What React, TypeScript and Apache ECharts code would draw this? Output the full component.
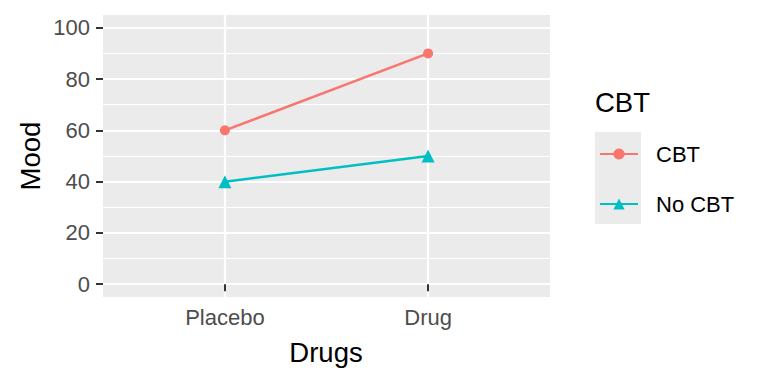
import React, { useEffect, useRef } from "react";
import * as echarts from "echarts";

const drugs = ["Placebo", "Drug"];
const cbtValues = [60, 90];
const noCbtValues = [40, 50];
const yTicks = [0, 20, 40, 60, 80, 100];
const yMinor = [10, 30, 50, 70, 90];
const seriesNames = ["CBT", "No CBT"];
const colors = ["#F8766D", "#00BFC4"];

const FONT = "Liberation Sans, Arial, sans-serif";

export default function App() {
  const ref = useRef<HTMLDivElement>(null);
  useEffect(() => {
    if (!ref.current) return;
    const chart = echarts.init(ref.current, undefined, { renderer: "svg" });
    const xPos = drugs.map((_, i) => i + 1);
    const toData = (vals: number[]) => vals.map((v, i) => [xPos[i], v]);
    const gridLines = [
      ...yTicks.map((v) => ({ yAxis: v, lineStyle: { width: 2.2 } })),
      ...yMinor.map((v) => ({ yAxis: v, lineStyle: { width: 1.1 } })),
      ...xPos.map((v) => ({ xAxis: v, lineStyle: { width: 2.2 } })),
    ];
    chart.setOption({
      animation: false,
      textStyle: { fontFamily: FONT },
      grid: { left: 103, right: 218, top: 15, bottom: 87, show: true, backgroundColor: "#EBEBEB", borderWidth: 0 },
      xAxis: {
        type: "value",
        min: 0.4,
        max: 2.6,
        axisLine: { show: false },
        splitLine: { show: false },
        axisTick: { show: true, customValues: xPos, length: 7, lineStyle: { color: "#333333", width: 2 } },
        axisLabel: {
          customValues: xPos,
          formatter: (v: number) => drugs[Math.round(v) - 1] ?? "",
          color: "#4D4D4D",
          fontSize: 22,
          fontFamily: FONT,
          margin: 9,
        },
      },
      yAxis: {
        type: "value",
        min: -5,
        max: 105,
        axisLine: { show: false },
        splitLine: { show: false },
        axisTick: { show: true, customValues: yTicks, length: 7, lineStyle: { color: "#333333", width: 2 } },
        axisLabel: {
          customValues: yTicks,
          color: "#4D4D4D",
          fontSize: 22,
          fontFamily: FONT,
          margin: 13,
        },
      },
      legend: {
        show: true,
        left: 599,
        top: 143,
        orient: "vertical",
        padding: 0,
        itemWidth: 38,
        itemHeight: 14,
        itemGap: 28,
        data: seriesNames,
        textStyle: { fontSize: 22, color: "#000000", fontFamily: FONT, padding: [0, 0, 0, 13] },
      },
      graphic: [
        { type: "rect", left: 595, top: 132, shape: { width: 46, height: 92 }, style: { fill: "#EBEBEB" }, z: -1 },
        { type: "text", left: 595, top: 88, style: { text: "CBT", fontSize: 27.5, fontFamily: FONT, fill: "#000000" } },
        {
          type: "text",
          x: 30,
          y: 156,
          rotation: Math.PI / 2,
          style: { text: "Mood", fontSize: 27.5, fontFamily: FONT, fill: "#000000", align: "center", verticalAlign: "middle" },
        },
        {
          type: "text",
          x: 326,
          y: 352,
          style: { text: "Drugs", fontSize: 27.5, fontFamily: FONT, fill: "#000000", align: "center", verticalAlign: "middle" },
        },
      ],
      series: [
        {
          type: "line",
          name: "grid",
          data: [],
          z: 0,
          silent: true,
          markLine: {
            silent: true,
            z: 0,
            symbol: "none",
            label: { show: false },
            lineStyle: { color: "#FFFFFF", type: "solid" },
            emphasis: { disabled: true },
            data: gridLines,
          },
        },
        {
          type: "line",
          name: seriesNames[0],
          data: toData(cbtValues),
          symbol: "circle",
          symbolSize: 10,
          itemStyle: { color: colors[0] },
          lineStyle: { color: colors[0], width: 2.5 },
          z: 10,
        },
        {
          type: "line",
          name: seriesNames[1],
          data: toData(noCbtValues),
          symbol: "triangle",
          symbolSize: 13,
          itemStyle: { color: colors[1] },
          lineStyle: { color: colors[1], width: 2.5 },
          z: 10,
        },
      ],
    });
    return () => chart.dispose();
  }, []);
  return <div ref={ref} style={{ position: "absolute", left: 0, top: 0, width: 768, height: 384 }} />;
}
